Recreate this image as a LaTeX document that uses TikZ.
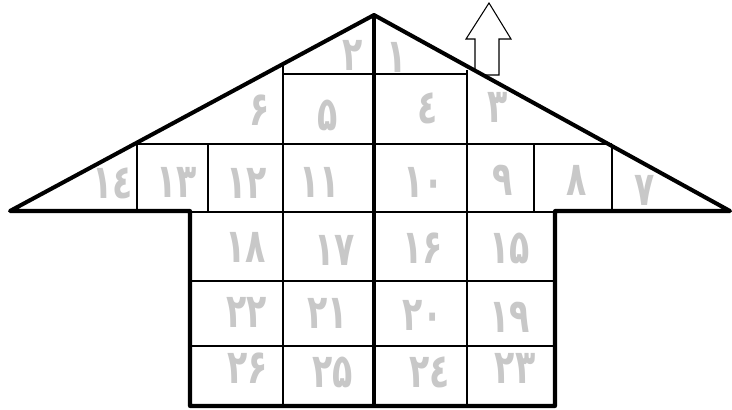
\documentclass[tikz,border=0pt]{standalone}
\usepackage{fontspec}
\newfontfamily\farsifont[Script=Arabic, FakeStretch=0.7]{DejaVu Sans}
\usepackage{tikz}
\definecolor{numgray}{RGB}{200,200,200}

\begin{document}
\begin{tikzpicture}[x=0.02cm, y=-0.02cm,
  wall/.style={draw=black, line width=2.3pt, line join=round},
  grid/.style={draw=black, line width=0.8pt},
  num/.style={text=numgray, inner sep=0pt,
    font=\farsifont\bfseries\fontsize{27}{27}\selectfont}]

\useasboundingbox (0,0) rectangle (732,409);

% Arrow on the roof
\draw[line width=0.6pt, fill=white] (483.5,75) -- (499,75) -- (499,39) -- (511,39)
  -- (489,3) -- (466,39) -- (475,39) -- (475,70.3);

% Cells
\draw[grid] (283,64) -- (283,406);
\draw[grid] (467,70) -- (467,406);
\draw[grid] (283,74) -- (467,74);
\draw[grid] (137,144) -- (612,144);
\draw[grid] (137,144) -- (137,212) (208,144) -- (208,212)
  (534,144) -- (534,212) (612,144) -- (612,212);
\draw[grid] (190,212) -- (555,212) (190,281) -- (555,281) (190,346) -- (555,346);

% Roof and walls
\draw[wall] (10,211) -- (374,15) -- (730,211) -- (555,211) -- (555,406)
  -- (190,406) -- (190,211) -- cycle;
\draw[wall] (374,15) -- (374,406);

% Numbers
\foreach \t/\x/\y/\k in {۱/397/57/1, ۲/353/55/2, ۳/498/107/3, ٤/428/108/4,
    ۵/328/115/5, ۶/260/110/6, ۷/645/190/7, ۸/577/180/8, ۹/503/180/9,
    ۱۰/424/182/10, ۱۱/320/182/11, ۱۲/247/183/12, ۱۳/177/182/13, ۱٤/113/183/14,
    ۱۵/510/248/15, ۱۶/423/248/16, ۱۷/335/250/17, ۱۸/246/247/18,
    ۱۹/510/317/19, ۲۰/423/315/20, ۲۱/328/313/21, ۲۲/247/312/22,
    ۲۳/515/368/23, ۲٤/430/372/24, ۲۵/333/372/25, ۲۶/248/368/26}
  \node[num] (c\k) at (\x,\y) {\t};

\end{tikzpicture}
\end{document}
